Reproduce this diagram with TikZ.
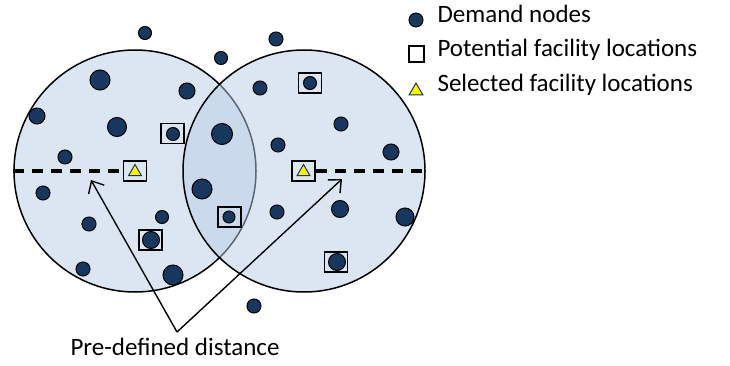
\documentclass[tikz,border=0pt]{standalone}
\usepackage{fontspec}
\setmainfont{Carlito}
\usetikzlibrary{arrows.meta,shapes.geometric}

\definecolor{navy}{HTML}{17375E}
\definecolor{zonefill}{HTML}{DCE6F2}
\definecolor{zoneover}{HTML}{B9CDE5}

\tikzset{
  zone/.style={circle, draw=black, line width=1.5pt, minimum size=242pt, inner sep=0pt},
  demand/.style={circle, fill=navy, draw=black, line width=1pt, inner sep=0pt},
  candbox/.style={draw=black, line width=1.5pt, minimum width=23pt, minimum height=20pt, inner sep=0pt},
  chosen/.style={regular polygon, regular polygon sides=3, fill=yellow, draw=navy, line width=1pt, minimum size=15pt, inner sep=0pt},
  radius line/.style={black, line width=3.2pt, dash pattern=on 11pt off 8pt},
  pointer/.style={-{Straight Barb[length=10pt, width=18pt]}, line width=1.4pt},
}

\begin{document}
\begin{tikzpicture}[x=1pt, y=-1pt, font=\fontsize{25}{29}\selectfont]
   \useasboundingbox (0,0) rectangle (730,366);

   % coverage circles
   \node [zone, fill=zonefill] (zoneL) at (135,171) {};
   \node [zone, fill=zoneover, fill opacity=0.5] (zoneR) at (304,171) {};

   % potential / selected facility boxes
   \node [candbox] (s1) at (135,171) {};
   \node [chosen] (t1) at (135,172) {};
   \node [candbox] (s2) at (303.5,171) {};
   \node [chosen] (t2) at (303.5,172) {};
   \foreach \x/\y in {172.5/133.5, 229.5/217, 150.5/240, 310/83, 336/262}
      \node [candbox] at (\x,\y) {};

   % demand nodes
   \foreach \x/\y/\d [count=\i] in {145/33/13, 221/58/13, 100/80/20, 187/91/16, 37/116/16,
         117/127/19, 222/134/21, 65/157/14, 43/193/14, 202/189/20, 162/217/13, 89/224/14,
         83/269/14, 173/275/20, 254/306/14, 276/39/14, 260/88/14, 341/124/14, 278/145/14,
         391/152/16, 340/209/17, 277/212/14, 405/217/18,
         173/134/13, 229/217/12, 151/240/17, 310/83/13, 337/262/17}
      \node [demand, minimum size=\d] (dn\i) at (\x,\y) {};

   % radius
   \draw [radius line] (zoneL.west) -- (s1.west);
   \draw [radius line] (s2.east) -- (zoneR.east);

   % pre-defined distance
   \node [anchor=base] (dist) at (175,355) {Pre-defined distance};
   \coordinate (apex) at (177,332);
   \coordinate (tipL) at (91,180);
   \coordinate (tipR) at (342,179);
   \draw [pointer] (apex) -- (tipL);
   \draw [pointer] (apex) -- (tipR);

   % legend
   \node [demand, minimum size=14] (lg1) at (416,20) {};
   \node [anchor=base west] at (434,23) {Demand nodes};
   \node [draw=black, line width=1.2pt, minimum width=15pt, minimum height=16pt, inner sep=0pt] (lg2) at (416.5,54) {};
   \node [anchor=base west] at (434,57) {Potential facility locations};
   \node [chosen, minimum size=16pt] (lg3) at (416,91) {};
   \node [anchor=base west] at (434,92) {Selected facility locations};
\end{tikzpicture}
\end{document}
